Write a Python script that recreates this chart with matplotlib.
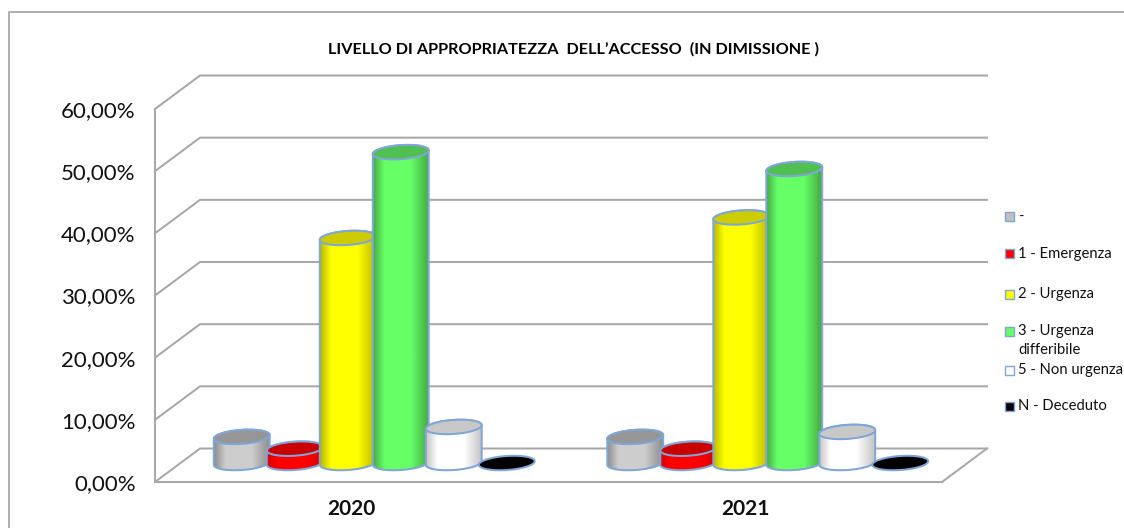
import numpy as np
import matplotlib
matplotlib.use("Agg")
import matplotlib.pyplot as plt
from matplotlib.colors import LinearSegmentedColormap
from matplotlib.patches import Polygon, Rectangle
from matplotlib.lines import Line2D

years = ["2020", "2021"]
labels = ["-", "1 - Emergenza", "2 - Urgenza", "3 - Urgenza\ndifferibile", "5 - Non urgenza", "N - Deceduto"]
v2020 = [4.2, 2.3, 36.2, 50.0, 5.8, 0.0]
v2021 = [4.2, 2.3, 39.5, 47.3, 5.0, 0.0]
yticks = [0, 10, 20, 30, 40, 50, 60]
ytick_labels = ["0,00%", "10,00%", "20,00%", "30,00%", "40,00%", "50,00%", "60,00%"]
title = "LIVELLO DI APPROPRIATEZZA  DELL’ACCESSO  (IN DIMISSIONE )"

edge_colors = ["#8c8c8c", "#d80000", "#b8b800", "#45a845", "#c4c4c4", "#000000"]
mid_colors = ["#cdcdcd", "#ff0000", "#ffff00", "#66ff66", "#ffffff", "#000000"]
top_colors = ["#969696", "#c80000", "#cccc00", "#50c050", "#c8c8c8", "#000000"]
swatch_colors = ["#c0c0c0", "#ff0000", "#ffff00", "#66ff66", "#ffffff", "#000000"]
legend_y_px = [218, 255, 295, 332, 371, 407]

W, H = 1124, 528
FONT = ["Lato", "DejaVu Sans"]
GRID = "#a8a8a8"
OUT = "#7fa6d6"
fig = plt.figure(figsize=(W / 100, H / 100), dpi=100)
L, R, T, B = 155, 942, 109, 482
ax = fig.add_axes([L / W, 1 - B / H, (R - L) / W, (B - T) / H])
ax.set_xlim(-0.5, 1.5)
ax.set_ylim(0, 60)
pxx = 2 / (R - L)
pxy = 60 / (B - T)
lw = 1.45

back_dx, back_dy = 45 * pxx, 33.5 * pxy
bar_dx, bar_dy = 22.5 * pxx, 19 * pxy
step = 53 * pxx
a, b, th = 28, 7, np.radians(4)


def ell(cx, cy, t):
    xp = a * np.cos(t) * np.cos(th) - b * np.sin(t) * np.sin(th)
    yp = a * np.cos(t) * np.sin(th) + b * np.sin(t) * np.cos(th)
    return np.column_stack([cx + xp * pxx, cy + yp * pxy])


for tk in yticks:
    ax.plot([-0.5, -0.5 + back_dx, 1.5 + back_dx], [tk, tk + back_dy, tk + back_dy],
            color=GRID, lw=lw, clip_on=False, zorder=1, solid_joinstyle="miter")
ax.plot([1.5, 1.5 + back_dx], [0, back_dy], color=GRID, lw=lw, clip_on=False, zorder=1)

for yi, vals in enumerate([v2020, v2021]):
    for i, v in enumerate(vals):
        z = 3 + yi * 10 + i
        cx = yi + (i - 2.5) * step + bar_dx
        base = bar_dy
        top = base + v
        if v > 0:
            body = np.vstack([ell(cx, base, np.linspace(np.pi, 2 * np.pi, 60)),
                              ell(cx, top, np.linspace(0, np.pi, 60))])
            cm = LinearSegmentedColormap.from_list(
                "c", [(0, edge_colors[i]), (0.2, mid_colors[i]), (0.68, mid_colors[i]), (1, edge_colors[i])])
            grad = cm(np.linspace(0, 1, 128))[None, :, :]
            ext = [body[:, 0].min(), body[:, 0].max(), body[:, 1].min(), body[:, 1].max()]
            im = ax.imshow(grad, extent=ext, aspect="auto", zorder=z, interpolation="bilinear")
            pg = Polygon(body, closed=True, transform=ax.transData)
            im.set_clip_path(pg)
            ax.add_patch(Polygon(body, closed=True, fill=False, ec=OUT, lw=lw, zorder=z + 0.1, clip_on=False))
        ax.add_patch(Polygon(ell(cx, top, np.linspace(0, 2 * np.pi, 120)), closed=True,
                             fc=top_colors[i], ec=OUT, lw=lw, zorder=z + 0.2, clip_on=False))

ax.set_xlim(-0.5, 1.5)
ax.set_ylim(0, 60)
for s in ("top", "right"):
    ax.spines[s].set_visible(False)
for s in ("left", "bottom"):
    ax.spines[s].set_color(GRID)
    ax.spines[s].set_linewidth(lw)
ax.patch.set_alpha(0)
ax.set_yticks(yticks)
ax.set_yticklabels(ytick_labels, fontsize=16, family=FONT, color="#111111")
ax.set_xticks([0, 1])
ax.set_xticklabels(years, fontsize=15, family=FONT, fontweight="bold", color="#111111")
ax.tick_params(axis="y", length=0, pad=14)
ax.tick_params(axis="x", length=0, pad=12)

fig.text(573 / W, 1 - 49 / H, title, ha="center", va="center", fontsize=11.7,
         fontweight="bold", family=FONT, color="#000000")

for lab, c, y in zip(labels, swatch_colors, legend_y_px):
    fig.add_artist(Rectangle((1005 / W, 1 - (y + 3.5) / H), 9 / W, 9 / H, transform=fig.transFigure,
                             fc=c, ec=OUT, lw=1.0))
    fig.text(1018 / W, 1 - (y - 8) / H, lab, ha="left", va="top", fontsize=10.7, family=FONT,
             color="#111111", linespacing=1.45)

fig.add_artist(Line2D([8.5 / W, 8.5 / W, 1], [0, 1 - 12 / H, 1 - 12 / H], transform=fig.transFigure,
                      color=GRID, lw=1.3))
fig.savefig("out.png", dpi=100)
